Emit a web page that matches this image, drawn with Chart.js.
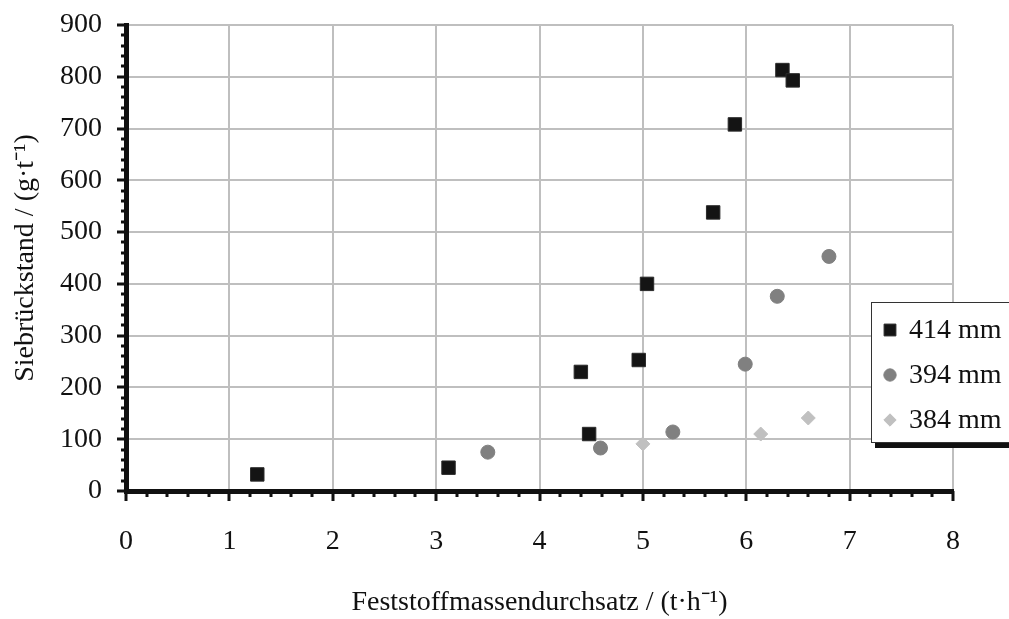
<!DOCTYPE html>
<html>
<head>
<meta charset="utf-8">
<script src="https://cdn.jsdelivr.net/npm/chart.js@4/dist/chart.umd.min.js"></script>
<style>
  html, body { margin: 0; padding: 0; background: #fff; }
  #wrap { width: 1009px; height: 619px; }
</style>
</head>
<body>
<div id="wrap"><canvas id="sieb" width="1009" height="619"></canvas></div>
<script>
// Feststoffmassendurchsatz (t/h) vs. Siebrückstand (g/t), three gap widths
let x414 = [1.27, 3.12, 4.40, 4.48, 4.96, 5.04, 5.68, 5.89, 6.35, 6.45]
let y414 = [32, 45, 230, 110, 253, 400, 538, 708, 813, 793]
let x394 = [3.50, 4.59, 5.29, 5.99, 6.30, 6.80]
let y394 = [75, 83, 114, 245, 376, 453]
let x384 = [5.00, 6.14, 6.60]
let y384 = [91, 110, 141]

let seriesLabels = ['414 mm', '394 mm', '384 mm']
let xTicks = [0, 1, 2, 3, 4, 5, 6, 7, 8]
let yTicks = [0, 100, 200, 300, 400, 500, 600, 700, 800, 900]

const serif = "'Liberation Serif', 'Times New Roman', serif"
const ink = '#111'
const fsize = 28

function pts(xs, ys) {
    return xs.map((x, i) => ({ x: x, y: ys[i] }))
}

// black minor/major tick marks outside the axes, like the original
const axisTicks = {
    id: 'axisTicks',
    afterDraw(chart) {
        const ctx = chart.ctx
        const xs = chart.scales.x, ys = chart.scales.y
        const area = chart.chartArea
        ctx.save()
        ctx.fillStyle = ink
        for (let v = 0; v <= 900; v += 20) {
            const py = Math.round(ys.getPixelForValue(v))
            const major = v % 100 === 0
            if (major) ctx.fillRect(area.left - 9, py - 1.5, 9, 3)
            else ctx.fillRect(area.left - 5, py - 1.5, 5, 3)
        }
        for (let i = 0; i <= 40; i++) {
            const v = i * 0.2
            const px = Math.round(xs.getPixelForValue(v))
            const major = i % 5 === 0
            if (major) ctx.fillRect(px - 1.5, area.bottom, 3, 10)
            else ctx.fillRect(px - 1.5, area.bottom, 3, 6)
        }
        ctx.restore()
    }
}

// boxed legend with dark drop shadow, partly outside the canvas on the right
const boxLegend = {
    id: 'boxLegend',
    afterDraw(chart) {
        const ctx = chart.ctx
        const left = 871, top = 302, bottom = 442
        ctx.save()
        ctx.fillStyle = ink
        ctx.fillRect(left + 4, bottom, 200, 6)
        ctx.fillStyle = '#fff'
        ctx.fillRect(left, top, 200, bottom - top)
        ctx.strokeStyle = '#333'
        ctx.lineWidth = 1
        ctx.strokeRect(left + 0.5, top + 0.5, 200, bottom - top)
        ctx.font = fsize + 'px ' + serif
        ctx.textBaseline = 'middle'
        ctx.textAlign = 'left'
        chart.data.datasets.forEach((ds, i) => {
            const cy = 330 + i * 45
            ctx.fillStyle = ds.backgroundColor
            ctx.strokeStyle = ds.borderColor
            ctx.lineWidth = 1
            Chart.helpers.drawPoint(ctx, {
                pointStyle: ds.pointStyle,
                radius: ds.pointRadius * 0.88,
                borderWidth: 1
            }, 890, cy)
            ctx.fillStyle = ink
            ctx.fillText(ds.label, 909, cy + 1)
        })
        ctx.restore()
    }
}

let ctx = document.getElementById('sieb').getContext('2d')

let chart = new Chart(ctx, {
    type: 'scatter',
    data: {
        datasets: [{
            label: seriesLabels[0],
            data: pts(x414, y414),
            pointStyle: 'rect',
            pointRadius: 9.5,
            backgroundColor: '#141414',
            borderColor: '#2a2a2a',
            borderWidth: 1
        }, {
            label: seriesLabels[1],
            data: pts(x394, y394),
            pointStyle: 'circle',
            pointRadius: 7,
            backgroundColor: '#808080',
            borderColor: '#808080',
            borderWidth: 1
        }, {
            label: seriesLabels[2],
            data: pts(x384, y384),
            pointStyle: 'rectRot',
            pointRadius: 7,
            backgroundColor: '#c0c0c0',
            borderColor: '#c0c0c0',
            borderWidth: 1
        }]
    },
    options: {
        responsive: false,
        animation: false,
        layout: { padding: { left: 0, top: 25, right: 56, bottom: 0 } },
        plugins: {
            legend: { display: false },
            tooltip: { enabled: false }
        },
        scales: {
            x: {
                type: 'linear',
                min: 0,
                max: 8,
                afterFit(scale) {
                    scale.height = 128
                    scale.paddingLeft = 0
                    scale.paddingRight = 0
                },
                afterBuildTicks(scale) { scale.ticks = xTicks.map(v => ({ value: v })) },
                grid: { color: '#bfbfbf', lineWidth: 2, drawTicks: false },
                border: { color: ink, width: 5 },
                ticks: {
                    padding: 34,
                    color: ink,
                    font: { family: serif, size: fsize },
                    maxRotation: 0
                },
                title: {
                    display: true,
                    text: 'Feststoffmassendurchsatz / (t·h⁻¹)',
                    color: ink,
                    font: { family: serif, size: fsize },
                    padding: { top: 0, bottom: 0 }
                }
            },
            y: {
                type: 'linear',
                min: 0,
                max: 900,
                afterFit(scale) {
                    scale.width = 126
                    scale.paddingTop = 0
                    scale.paddingBottom = 0
                },
                afterBuildTicks(scale) { scale.ticks = yTicks.map(v => ({ value: v })) },
                grid: { color: '#bfbfbf', lineWidth: 2, drawTicks: false },
                border: { color: ink, width: 5 },
                ticks: {
                    padding: 24,
                    color: ink,
                    font: { family: serif, size: fsize }
                },
                title: {
                    display: true,
                    text: 'Siebrückstand / (g·t⁻¹)',
                    color: ink,
                    font: { family: serif, size: fsize },
                    padding: { top: 9, bottom: 0 }
                }
            }
        }
    },
    plugins: [axisTicks, boxLegend]
})
</script>
</body>
</html>
